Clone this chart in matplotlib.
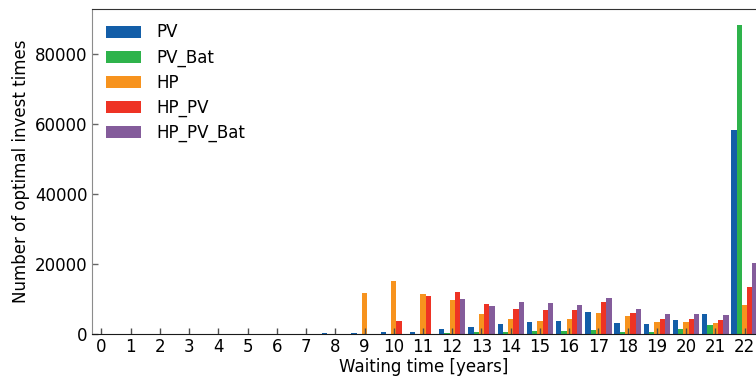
import matplotlib
matplotlib.use("Agg")
import matplotlib.pyplot as plt
import numpy as np

years = list(range(23))
series_names = ["PV", "PV_Bat", "HP", "HP_PV", "HP_PV_Bat"]
pv        = [0, 0, 0, 0, 0, 0, 0, 0, 250, 300, 650, 650, 1500, 2100, 2900, 3500, 3800, 6400, 3200, 2900, 4000, 5800, 58400]
pv_bat    = [0, 0, 0, 0, 0, 0, 0, 0, 0, 0, 0, 0, 400, 650, 650, 900, 900, 1200, 700, 700, 1500, 2600, 88400]
hp        = [0, 0, 0, 0, 0, 0, 0, 0, 0, 11800, 15200, 11500, 9800, 5800, 4400, 3800, 4400, 6100, 5200, 3500, 3500, 3200, 8200]
hp_pv     = [0, 0, 0, 0, 0, 0, 0, 0, 0, 0, 3800, 10900, 12100, 8700, 7200, 6900, 6900, 9200, 6100, 4400, 4400, 4000, 13300]
hp_pv_bat = [0, 0, 0, 0, 0, 0, 0, 0, 0, 0, 0, 0, 10100, 8100, 9200, 8900, 8300, 10300, 7200, 5800, 5800, 5500, 20400]

colors = ["#135ea8", "#2eb34b", "#f7931e", "#ee3324", "#845c9b"]
data = [pv, pv_bat, hp, hp_pv, hp_pv_bat]

plt.rcParams['font.family'] = ['DejaVu Sans']
plt.rcParams['font.size'] = 12

fig = plt.figure(figsize=(7.56, 3.79), dpi=100)
ax = fig.add_axes([0.1217, 0.1187, 1.0 - 0.1217, 0.9755 - 0.1187])

x = np.arange(len(years))
w = 0.18
for i, (name, vals) in enumerate(zip(series_names, data)):
    ax.bar(x + (i - 2) * w, vals, width=w, color=colors[i], label=name, linewidth=0)

ax.set_xlim(-0.32, 22.39)
ax.set_ylim(0, 92800)
ax.set_xticks(x)
ax.set_xticklabels([str(y) for y in years])
ax.set_yticks([0, 20000, 40000, 60000, 80000])
ax.tick_params(axis='x', direction='in', length=4, width=1, color='0.3', pad=3)
ax.tick_params(axis='y', direction='in', length=4, width=1, color='0.4', pad=3)
ax.set_xlabel("Waiting time [years]", labelpad=1)
ax.set_ylabel("Number of optimal invest times")

ax.spines['right'].set_visible(False)
ax.spines['left'].set_color('0.55')
ax.spines['top'].set_color('0.2')
ax.spines['bottom'].set_color('0.1')

ax.legend(loc='upper left', frameon=False, handlelength=2.1, handleheight=0.75,
          handletextpad=0.9, labelspacing=0.42, borderaxespad=0.45)

fig.savefig("out.png", dpi=100)
